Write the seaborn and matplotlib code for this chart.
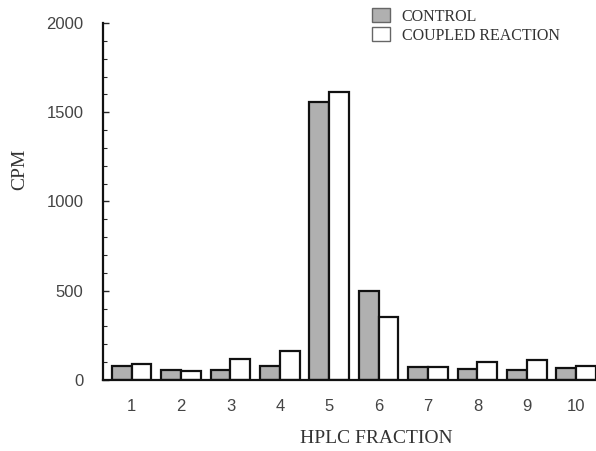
import numpy as np
import pandas as pd
import matplotlib
matplotlib.use("Agg")
import matplotlib.pyplot as plt
import seaborn as sns
from matplotlib.ticker import MultipleLocator

fractions = ["1", "2", "3", "4", "5", "6", "7", "8", "9", "10"]
control = [78, 58, 54, 80, 1555, 497, 73, 62, 58, 65]
coupled = [87, 50, 119, 162, 1615, 353, 75, 103, 110, 80]
series = ["CONTROL", "COUPLED REACTION"]

df = pd.DataFrame({
    "fraction": fractions * 2,
    "cpm": control + coupled,
    "series": [series[0]] * len(fractions) + [series[1]] * len(fractions),
})

sns.set_style("ticks")
fig = plt.figure(figsize=(5.96, 4.51), dpi=100)
ax = fig.add_axes([103 / 596, 1 - 380 / 451, 1 - 103 / 596, (380 - 23) / 451])

sns.barplot(data=df, x="fraction", y="cpm", hue="series", order=fractions,
            hue_order=series, palette=["#b0b0b0", "#ffffff"], width=0.8,
            edgecolor="#111111", linewidth=1.6, ax=ax, legend=True)

ax.set_ylim(0, 2000)
ax.set_xlim(-0.58, 9.4)
ax.yaxis.set_major_locator(MultipleLocator(500))
ax.yaxis.set_minor_locator(MultipleLocator(100))
ax.tick_params(axis="y", which="major", direction="in", length=4, width=1,
               labelsize=12, labelcolor="#444444", pad=14)
ax.tick_params(axis="y", which="minor", direction="in", length=3, width=0.8)
ax.tick_params(axis="x", length=0, labelsize=12, labelcolor="#444444", pad=14)
for lab in ax.get_xticklabels() + ax.get_yticklabels():
    lab.set_family("Liberation Sans")

for s in ["top", "right"]:
    ax.spines[s].set_visible(False)
for s in ["left", "bottom"]:
    ax.spines[s].set_linewidth(1.6)
    ax.spines[s].set_color("#111111")

ax.set_xlabel("HPLC FRACTION", family="Liberation Serif", fontsize=14, color="#333333")
ax.xaxis.set_label_coords((376 - 103) / 493, -0.14)
ax.set_ylabel("CPM", family="Liberation Serif", fontsize=14, color="#333333")
ax.yaxis.set_label_coords(-0.152, 0.59)

handles, labels = ax.get_legend_handles_labels()
for h in handles:
    h.set_edgecolor("#666666")
    h.set_linewidth(1.0)
leg = ax.legend(handles, labels, loc="upper left", frameon=False,
                bbox_to_anchor=(372 / 596, 1 - 8 / 451), bbox_transform=fig.transFigure,
                borderpad=0, borderaxespad=0, handlelength=1.1, handleheight=1.0,
                handletextpad=0.75, labelspacing=0.15,
                prop={"family": "Liberation Serif", "size": 11.5})
for t in leg.get_texts():
    t.set_color("#333333")

fig.savefig("out.png", dpi=100)
